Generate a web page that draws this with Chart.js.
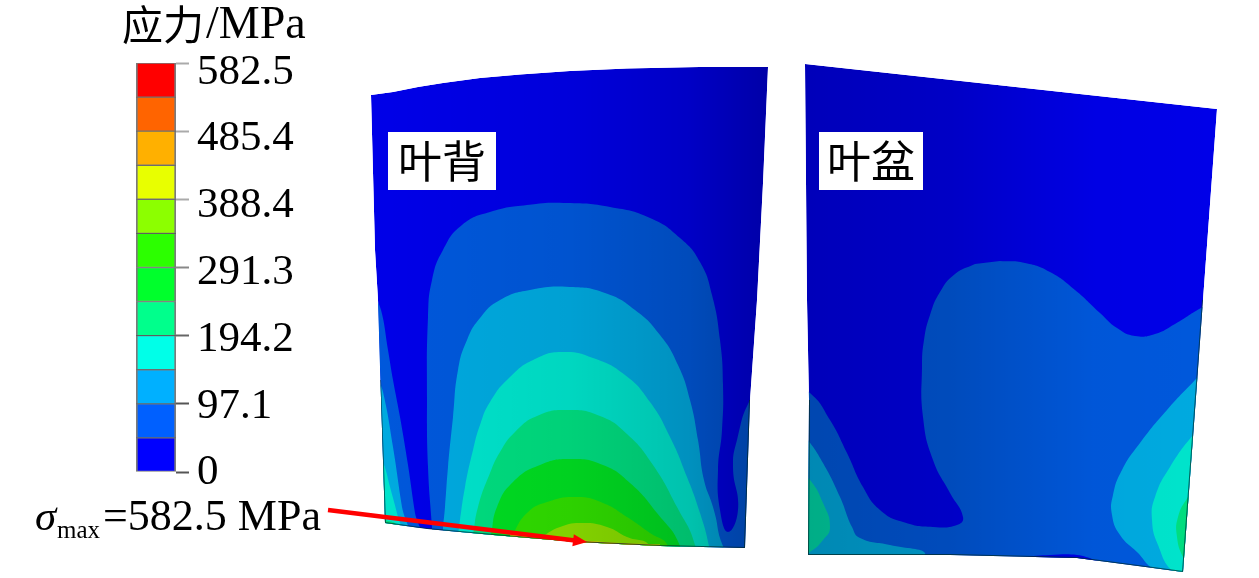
<!DOCTYPE html>
<html>
<head>
<meta charset="utf-8">
<style>
  html, body { margin: 0; padding: 0; background: #fff; overflow: hidden; }
  canvas { position: absolute; left: 0; top: 0; }
</style>
<script src="https://cdn.jsdelivr.net/npm/chart.js@4"></script>
</head>
<body>
<canvas id="legend" width="340" height="498"></canvas>
<canvas id="field" width="1259" height="578"></canvas>
<script>
// colour bar
const levelSteps = [48.5, 48.6, 48.5, 48.6, 48.6, 48.5, 48.5, 48.6, 48.5, 48.6, 48.5, 48.5];
const levelColors = ["#0000ff", "#0060ff", "#00b0ff", "#00ffe8", "#00ff8c", "#00ff2c",
    "#2cff00", "#8cff00", "#e8ff00", "#ffb000", "#ff6400", "#ff0000"];
const tickValues = [0, 97.1, 194.2, 291.3, 388.4, 485.4, 582.5];

// contour band colours on the blades, slightly darker than the bar
const L1 = "#0000e8", L2 = "#0058dc", L3 = "#00aae0", L4 = "#00e4cc", L5 = "#00de80";
const L6 = "#00de22", L7 = "#30de00", L8 = "#8ade00", L9 = "#e0d000", L10 = "#e88000";

// suction side (叶背)
const backBlade = [[371, 95], [393, 92], [418, 87], [443, 83], [480, 78], [520, 74.5], [570, 71], [627, 68.5], [700, 67],
    [768, 67], [763, 183], [757, 300], [750, 400], [745, 548], [660, 546], [577, 542], [493, 535], [427, 529], [385, 523],
    [380, 367], [378, 300], [375, 250]];
const backL2 = [[432, 527], [428, 467], [427, 400], [428, 317], [432, 280], [443, 250], [462, 225], [490, 212], [527, 205],
    [567, 203], [610, 207], [650, 218], [680, 238], [700, 262], [712, 295], [720, 340], [723, 385], [722, 430], [718, 470], [720, 510],
    [728, 532], [738, 510], [733, 467], [737, 440], [750, 400], [765, 385], [780, 470], [780, 570], [600, 570], [432, 570]];
const backL3 = [[443, 527], [445, 507], [448, 467], [453, 417], [458, 370], [467, 340], [480, 318], [500, 300], [530, 290],
    [570, 287], [605, 293], [635, 310], [660, 335], [678, 365], [690, 400], [698, 440], [704, 480], [713, 507], [718, 530],
    [722, 570], [443, 570]];
const backL4 = [[458, 535], [460, 520], [465, 487], [473, 450], [480, 425], [490, 402], [510, 377], [535, 359], [563, 352],
    [593, 358], [625, 375], [650, 402], [670, 437], [687, 477], [700, 513], [709, 546], [712, 570], [458, 570]];
const backL5 = [[473, 535], [478, 507], [490, 473], [500, 452], [515, 432], [537, 416], [567, 410], [600, 416], [627, 434],
    [653, 465], [677, 507], [695, 545], [695, 570], [473, 570]];
const backL6 = [[491, 535], [497, 507], [513, 482], [540, 465], [570, 459], [603, 465], [630, 483], [657, 513],
    [680, 546], [680, 570], [491, 570]];
const backL7 = [[512, 535], [527, 513], [547, 502], [577, 497], [603, 503], [627, 517], [650, 533], [668, 546],
    [668, 570], [512, 570]];
const backL8 = [[540, 538], [560, 527], [583, 523], [607, 527], [627, 537], [650, 546], [650, 570], [540, 570]];
const backL9 = [[510, 534], [577, 540], [620, 543], [660, 544.5], [660, 570], [510, 570]];
const backL10 = [[570, 540.5], [600, 542.5], [640, 544.5], [640, 570], [570, 570]];
const backEdgeL2 = [[372, 290], [381, 310], [388, 350], [393, 380], [400, 417], [408, 465], [415, 513], [420, 540], [365, 540]];
const backEdgeL3 = [[376, 375], [383, 392], [393, 447], [402, 507], [408, 540], [365, 540]];
const backEdgeL4 = [[378, 455], [384, 465], [390, 487], [398, 517], [403, 540], [365, 540]];
const backEdgeL5 = [[380, 515], [386, 520], [396, 524], [402, 540], [365, 540]];
const backOutline = [[380, 380], [385, 523], [427, 529], [493, 535], [577, 542], [660, 546], [745, 548], [750, 400]];

// pressure side (叶盆)
const faceBlade = [[805, 64], [1217, 109], [1203, 300], [1197, 383], [1183, 572], [1153, 568], [1077, 558],
    [950, 555], [808, 555], [809, 400], [807, 300]];
const faceL2 = [[1000, 261], [1025, 263], [1050, 272], [1075, 290], [1100, 313], [1117, 328], [1135, 336], [1155, 334],
    [1175, 324], [1203, 307], [1240, 290], [1240, 590], [1100, 590], [790, 580], [790, 385], [810, 393], [830, 420],
    [847, 453], [863, 487], [880, 510], [903, 522], [933, 527], [957, 525], [963, 517], [950, 493], [933, 460], [923, 417],
    [922, 367], [924, 340], [930, 315], [940, 292], [955, 274], [975, 264]];
const faceSliver = [[1023, 557], [1050, 555], [1077, 555], [1095, 560], [1110, 566], [1100, 575], [1040, 570]];
const faceLeftL3 = [[795, 425], [808, 440], [823, 463], [840, 497], [852, 527], [860, 538], [890, 545], [925, 553],
    [900, 562], [795, 562]];
const faceLeftL4 = [[797, 470], [810, 480], [823, 503], [830, 527], [823, 540], [810, 552], [797, 558]];
const faceRightL3 = [[1215, 360], [1198, 377], [1167, 410], [1140, 443], [1122, 470], [1113, 495], [1112, 515], [1120, 535],
    [1137, 552], [1155, 570], [1200, 590], [1235, 590]];
const faceRightL4 = [[1212, 418], [1195, 433], [1170, 467], [1155, 497], [1152, 520], [1158, 545], [1173, 572],
    [1200, 590], [1230, 500]];
const faceRightL5 = [[1198, 485], [1188, 497], [1178, 517], [1177, 537], [1183, 557], [1195, 575], [1215, 520]];
const faceOutline = [[809, 400], [808, 555], [950, 555], [1077, 558], [1153, 568], [1183, 572], [1197, 383], [1203, 300]];

// red marker line from the σmax label to the peak
const arrowTail = [328, 510];
const arrowTip = [587, 542];

// painted bottom to top
const layers = [
    [backBlade, L1, 0], [faceBlade, L1, 0],
    [backL2, L2, 0.5], [backEdgeL2, L2, 0.4], [backEdgeL3, L3, 0.4], [backEdgeL4, L4, 0.4], [backEdgeL5, L5, 0.4],
    [backL3, L3, 0.5], [backL4, L4, 0.5], [backL5, L5, 0.5], [backL6, L6, 0.5], [backL7, L7, 0.5], [backL8, L8, 0.5],
    [backL9, L9, 0], [backL10, L10, 0],
    [faceL2, L2, 0.5], [faceSliver, L1, 0.4], [faceLeftL3, L3, 0.5], [faceLeftL4, "#00d8a8", 0.5],
    [faceRightL3, L3, 0.5], [faceRightL4, L4, 0.5], [faceRightL5, L5, 0.5]
];
const outlines = [backOutline, faceOutline];

const serif = '"Liberation Serif", "Noto Sans CJK SC", serif';

const toPoints = (pts) => pts.map((p) => ({ x: p[0], y: p[1] }));

function tracePath(ctx, chart, pts) {
    const sx = chart.scales.x, sy = chart.scales.y;
    ctx.moveTo(sx.getPixelForValue(pts[0][0]), sy.getPixelForValue(pts[0][1]));
    pts.slice(1).forEach((p) => ctx.lineTo(sx.getPixelForValue(p[0]), sy.getPixelForValue(p[1])));
    ctx.closePath();
}

function shade(ctx, chart, pts, x0, x1, stops) {
    const g = ctx.createLinearGradient(x0, 0, x1, 0);
    stops.forEach((s) => g.addColorStop(s[0], "rgba(0,0,0," + s[1] + ")"));
    ctx.fillStyle = g;
    ctx.beginPath();
    tracePath(ctx, chart, pts);
    ctx.fill();
}

// contours stop at the blade outline
const bladeClip = {
    id: "bladeClip",
    beforeDatasetsDraw: (chart) => {
        const { ctx } = chart;
        ctx.save();
        ctx.beginPath();
        tracePath(ctx, chart, backBlade);
        tracePath(ctx, chart, faceBlade);
        ctx.clip();
    },
    afterDatasetsDraw: (chart) => {
        const { ctx } = chart;
        shade(ctx, chart, backBlade, 371, 768, [[0, 0], [0.5, 0.06], [0.8, 0.15], [1, 0.28]]);
        shade(ctx, chart, faceBlade, 805, 1217, [[0, 0.2], [0.35, 0.15], [0.7, 0.02], [1, 0]]);
        ctx.restore();
    },
};

const annotations = {
    id: "annotations",
    afterDraw: (chart) => {
        const { ctx } = chart;
        const sx = chart.scales.x, sy = chart.scales.y;
        ctx.save();

        // arrow
        const x0 = sx.getPixelForValue(arrowTail[0]), y0 = sy.getPixelForValue(arrowTail[1]);
        const x1 = sx.getPixelForValue(arrowTip[0]), y1 = sy.getPixelForValue(arrowTip[1]);
        const a = Math.atan2(y1 - y0, x1 - x0);
        ctx.strokeStyle = "#ff0000";
        ctx.fillStyle = "#ff0000";
        ctx.lineWidth = 4.5;
        ctx.beginPath();
        ctx.moveTo(x0, y0);
        ctx.lineTo(x1 - 10 * Math.cos(a), y1 - 10 * Math.sin(a));
        ctx.stroke();
        ctx.beginPath();
        ctx.moveTo(x1, y1);
        ctx.lineTo(x1 - 14 * Math.cos(a) + 6 * Math.sin(a), y1 - 14 * Math.sin(a) - 6 * Math.cos(a));
        ctx.lineTo(x1 - 14 * Math.cos(a) - 6 * Math.sin(a), y1 - 14 * Math.sin(a) + 6 * Math.cos(a));
        ctx.closePath();
        ctx.fill();

        // white boxes behind the side names
        ctx.fillStyle = "#ffffff";
        ctx.fillRect(388, 132, 108, 58);
        ctx.fillRect(819, 132, 104, 58);

        ctx.fillStyle = "#000000";
        ctx.textBaseline = "alphabetic";
        ctx.textAlign = "left";
        ctx.font = "44px " + serif;
        ctx.fillText("叶背", 398, 178);
        ctx.fillText("叶盆", 827, 178);

        ctx.font = "41px " + serif;
        ctx.fillText("应力", 122, 40);
        ctx.font = "46px " + serif;
        ctx.fillText("/MPa", 206, 38);

        ctx.font = "italic 43px " + serif;
        ctx.fillText("σ", 35, 530);
        ctx.font = "25px " + serif;
        ctx.fillText("max", 57, 538);
        ctx.font = "44px " + serif;
        ctx.fillText("=582.5 MPa", 103, 530);
        ctx.restore();
    },
};

new Chart(document.getElementById("field"), {
    type: "scatter",
    data: {
        datasets: outlines.map((o) => ({
            data: toPoints(o),
            showLine: true,
            fill: false,
            borderColor: "rgba(0,50,50,0.75)",
            borderWidth: 2,
            pointRadius: 0,
        })).concat(layers.slice().reverse().map((l) => ({
            data: toPoints(l[0]),
            showLine: true,
            fill: "shape",
            tension: l[2],
            backgroundColor: l[1],
            borderWidth: 0,
            pointRadius: 0,
        }))),
    },
    options: {
        responsive: false,
        animation: false,
        events: [],
        layout: { padding: 0 },
        plugins: { legend: { display: false }, tooltip: { enabled: false } },
        scales: {
            x: { type: "linear", display: false, min: 0, max: 1259 },
            y: { type: "linear", display: false, min: 0, max: 578, reverse: true },
        },
    },
    plugins: [bladeClip, annotations],
});

const setTicks = (scale) => {
    scale.ticks = tickValues.map((v) => ({ value: v }));
};

new Chart(document.getElementById("legend"), {
    type: "bar",
    data: {
        labels: [""],
        datasets: levelSteps.map((step, i) => ({
            data: [step],
            backgroundColor: levelColors[i],
            borderColor: "rgba(50,50,50,0.65)",
            borderWidth: { left: 2, right: 2, top: 1, bottom: 1 },
            borderSkipped: false,
            barPercentage: 1,
            categoryPercentage: 1,
        })),
    },
    options: {
        responsive: false,
        animation: false,
        events: [],
        layout: { padding: { left: 136, top: 63, bottom: 26, right: 26 } },
        plugins: { legend: { display: false }, tooltip: { enabled: false } },
        scales: {
            x: { stacked: true, display: false },
            y: {
                stacked: true,
                position: "right",
                min: 0,
                max: 582.5,
                border: { display: false },
                afterBuildTicks: setTicks,
                afterFit: (scale) => { scale.width = 13; },
                ticks: { display: false },
                grid: {
                    drawOnChartArea: false,
                    tickLength: 13,
                    tickWidth: 2,
                    tickColor: ["#555", "#555", "#666", "#888", "#aaa", "#aaa", "#aaa"],
                },
            },
            // the printed numbers sit a little off their tick marks, so they get their own axis
            labelAxis: {
                type: "linear",
                position: "right",
                min: 1.5,
                max: 596,
                border: { display: false },
                grid: { display: false },
                afterBuildTicks: setTicks,
                afterFit: (scale) => { scale.width = 125; },
                ticks: {
                    padding: 0,
                    color: "#000",
                    font: { family: serif, size: 43 },
                    callback: (v) => String(v),
                },
            },
        },
    },
});
</script>
</body>
</html>
